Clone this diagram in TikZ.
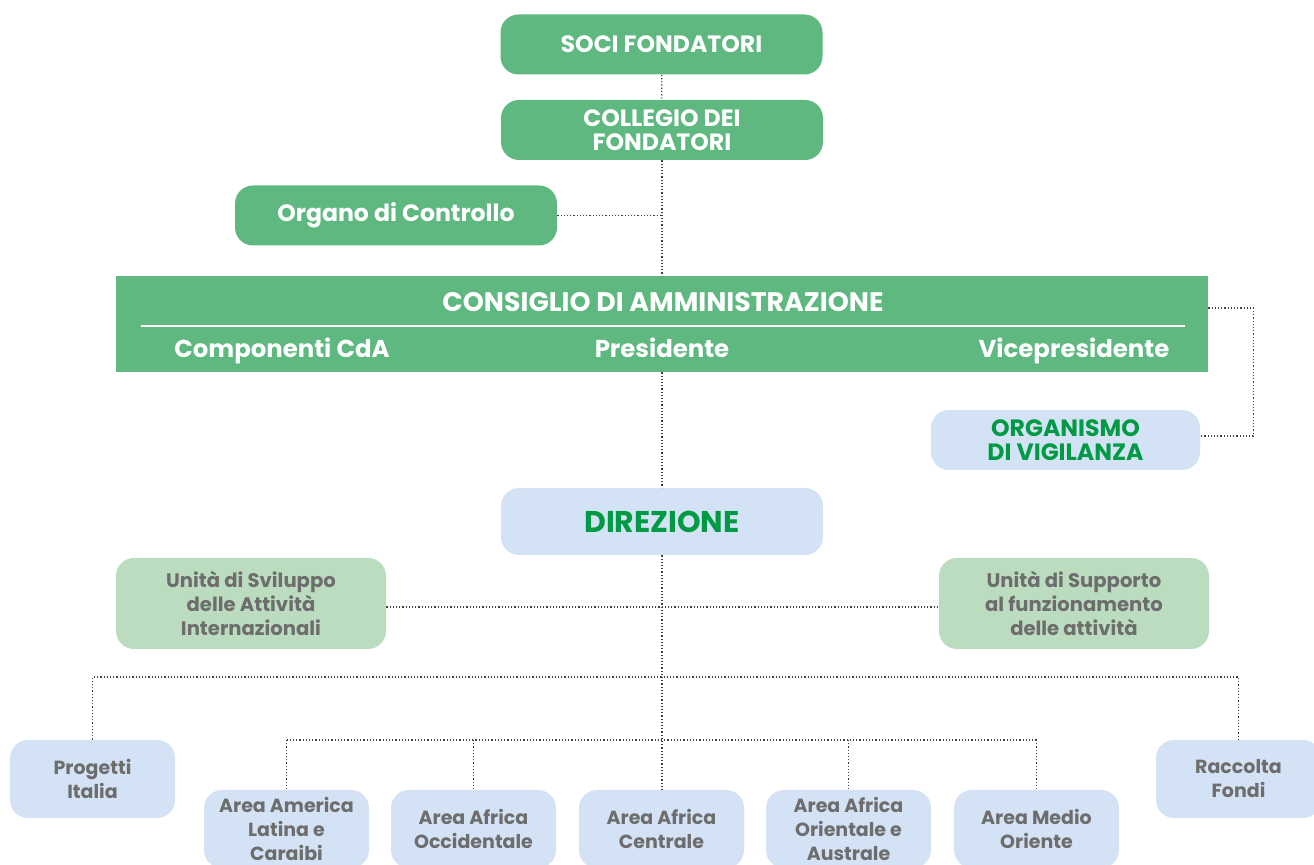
\documentclass[tikz,border=0pt]{standalone}
\usepackage{fontspec}
\setmainfont{Poppins}
\usetikzlibrary{arrows,shapes}
\definecolor{boardgreen}{RGB}{94,184,128}
\definecolor{paleblue}{RGB}{211,226,244}
\definecolor{palegreen}{RGB}{188,220,192}
\definecolor{deepgreen}{RGB}{0,154,68}
\definecolor{boxgray}{RGB}{109,109,109}
\tikzstyle{organ}=[rectangle,rounded corners=9pt,fill=boardgreen,text=white,align=center,inner sep=0pt,font=\bfseries\fontsize{11.8}{12}\selectfont,minimum width=161pt,minimum height=30pt]
\tikzstyle{watch}=[organ,fill=paleblue,text=deepgreen]
\tikzstyle{unit}=[organ,fill=palegreen,text=boxgray,font=\bfseries\fontsize{9.8}{12}\selectfont,minimum width=135pt,minimum height=45.5pt]
\tikzstyle{area}=[unit,fill=paleblue,font=\bfseries\fontsize{9.5}{12}\selectfont,minimum width=82.5pt,minimum height=39pt]
\tikzstyle{boardtext}=[text=white,inner sep=0pt,anchor=base,font=\bfseries\fontsize{12.2}{12}\selectfont]
\tikzstyle{link}=[draw,densely dotted,line width=0.6pt,black!75]

\begin{document}
\begin{tikzpicture}[x=0.5pt,y=-0.5pt]
    \useasboundingbox (0,0) rectangle (1314,865);
    % First we draw the governing bodies
    \node[organ] (soci) at (661.5,44.5) {SOCI FONDATORI};
    \node[organ] (collegio) at (662,130) {COLLEGIO DEI\\FONDATORI};
    \node[organ] (organo) at (396,215.5) {Organo di Controllo};

    % the board, with its three members
    \node[rectangle,fill=boardgreen,inner sep=0pt,minimum width=546pt,minimum height=48pt] (cda) at (662,324) {};
    \node[boardtext,font=\bfseries\fontsize{13.4}{14}\selectfont] (cdatitle) at (663,312) {CONSIGLIO DI AMMINISTRAZIONE};
    \draw[white,line width=1pt] (141,326) -- (1185,326);
    \foreach \pos/\name/\text in {{(282,358)/componenti/Componenti CdA}, {(662,358)/presidente/Presidente}, {(1074,358)/vice/Vicepresidente}}
        \node[boardtext] (\name) at \pos {\text};

    \node[watch] (vigilanza) at (1065.5,440) [minimum width=134.5pt] {ORGANISMO\\DI VIGILANZA};
    \node[watch] (direzione) at (662,521.5) [minimum height=33.5pt,font=\bfseries\fontsize{15}{16}\selectfont] {DIREZIONE};

    % staff units
    \node[unit] (sviluppo) at (251,603.5) {Unità di Sviluppo\\delle Attività\\Internazionali};
    \node[unit] (supporto) at (1074,603.5) {Unità di Supporto\\al funzionamento\\delle attività};

    % operating areas
    \node[area] (progetti) at (92.5,779) {Progetti\\Italia};
    \node[area] (raccolta) at (1238.5,779) {Raccolta\\Fondi};
    \foreach \pos/\name/\text in {{(286.5,829)/america/Area America\\Latina e\\Caraibi}, {(473.5,829)/occidentale/Area Africa\\Occidentale}, {(661.5,829)/centrale/Area Africa\\Centrale}, {(848.5,829)/orientale/Area Africa\\Orientale e\\Australe}, {(1036.5,829)/medio/Area Medio\\Oriente}}
        \node[area] (\name) at \pos {\text};

    % Connect the boxes with dotted lines
    \coordinate (busone) at (662,677);
    \coordinate (bustwo) at (662,740);
    \path[link] (soci) -- (collegio);
    \path[link] (collegio.south) -- (collegio.south |- cda.north);
    \path[link] (organo.east) -- (organo.east -| collegio.south);
    \path[link] ([yshift=8pt]cda.east) -- ++(45,0) |- ([yshift=2pt]vigilanza.east);
    \path[link] (cda.south) -- (direzione.north);
    \path[link] (direzione.south) -- (direzione.south |- centrale.north);
    \path[link] ([yshift=-1.75pt]sviluppo.east) -- ([yshift=-1.75pt]supporto.west);
    \path[link] (progetti.north) -- (progetti.north |- busone) -- (raccolta.north |- busone) -- (raccolta.north);
    \path[link] (america.north |- bustwo) -- (medio.north |- bustwo);
    \foreach \dest in {america, occidentale, orientale, medio}
        \path[link] (\dest.north |- bustwo) -- (\dest.north);
\end{tikzpicture}
\end{document}
